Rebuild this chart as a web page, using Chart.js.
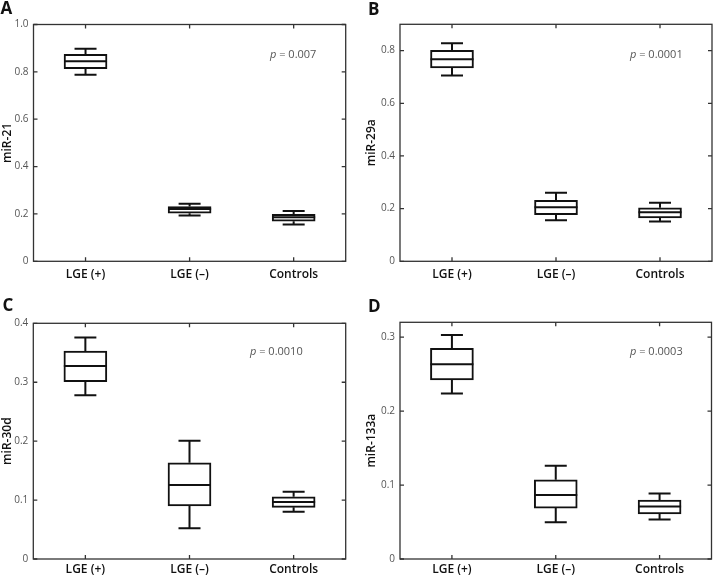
<!DOCTYPE html>
<html><head><meta charset="utf-8">
<script src="https://cdn.jsdelivr.net/npm/chart.js@4.4.0/dist/chart.umd.min.js"></script>
<style>
html,body{margin:0;padding:0;background:#fff;width:713px;height:576px;overflow:hidden;}
canvas{position:absolute;}
</style></head><body>
<canvas id="cA" width="356" height="288" style="left:0;top:0"></canvas>
<canvas id="cB" width="357" height="288" style="left:356px;top:0"></canvas>
<canvas id="cC" width="356" height="288" style="left:0;top:288px"></canvas>
<canvas id="cD" width="357" height="288" style="left:356px;top:288px"></canvas>
<script>
const categories = ['LGE (+)', 'LGE (–)', 'Controls'];

// Panel A: miR-21
const miR21Low  = [0.788, 0.193, 0.155];
const miR21Q1   = [0.813, 0.203, 0.169];
const miR21Med  = [0.845, 0.221, 0.186];
const miR21Q3   = [0.874, 0.231, 0.198];
const miR21High = [0.898, 0.243, 0.212];
const miR21Ticks = [0, 0.2, 0.4, 0.6, 0.8, 1.0];
const miR21TickLabels = ['0', '0.2', '0.4', '0.6', '0.8', '1.0'];

// Panel B: miR-29a
const miR29aLow  = [0.706, 0.156, 0.151];
const miR29aQ1   = [0.734, 0.177, 0.165];
const miR29aMed  = [0.767, 0.205, 0.186];
const miR29aQ3   = [0.801, 0.232, 0.203];
const miR29aHigh = [0.828, 0.260, 0.222];
const miR29aTicks = [0, 0.2, 0.4, 0.6, 0.8];
const miR29aTickLabels = ['0', '0.2', '0.4', '0.6', '0.8'];

// Panel C: miR-30d
const miR30dLow  = [0.278, 0.052, 0.080];
const miR30dQ1   = [0.301, 0.090, 0.0877];
const miR30dMed  = [0.3275, 0.1256, 0.0967];
const miR30dQ3   = [0.353, 0.1634, 0.1057];
const miR30dHigh = [0.376, 0.2008, 0.114];
const miR30dTicks = [0, 0.1, 0.2, 0.3, 0.4];
const miR30dTickLabels = ['0', '0.1', '0.2', '0.3', '0.4'];

// Panel D: miR-133a
const miR133aLow  = [0.2236, 0.0498, 0.0534];
const miR133aQ1   = [0.242, 0.0688, 0.0611];
const miR133aMed  = [0.2633, 0.0864, 0.071];
const miR133aQ3   = [0.2847, 0.1072, 0.0797];
const miR133aHigh = [0.3027, 0.1262, 0.0887];
const miR133aTicks = [0, 0.1, 0.2, 0.3];
const miR133aTickLabels = ['0', '0.1', '0.2', '0.3'];

const panelLetters = ['A', 'B', 'C', 'D'];
const pValues = ['0.007', '0.0001', '0.0010', '0.0003'];
const yTitles = ['miR-21', 'miR-29a', 'miR-30d', 'miR-133a'];

const FONT = "'Open Sans', 'Noto Sans', sans-serif";

const boxPlugin = {
  id: 'boxWhisker',
  afterDatasetsDraw(chart, args, o) {
    const ctx = chart.ctx, xs = chart.scales.x, ys = chart.scales.y;
    const meta = chart.getDatasetMeta(0);
    ctx.save();
    ctx.strokeStyle = '#111';
    ctx.lineWidth = 2;
    ctx.lineCap = 'butt';
    categories.forEach((c, i) => {
      const cx = xs.getPixelForValue(i);
      const bw = meta.data[i].width;
      const yMed = ys.getPixelForValue(o.med[i]);
      const yLo = ys.getPixelForValue(o.low[i]);
      const yHi = ys.getPixelForValue(o.high[i]);
      const yQ1 = ys.getPixelForValue(o.q1[i]);
      const yQ3 = ys.getPixelForValue(o.q3[i]);
      const cap = o.capWidth / 2;
      ctx.beginPath();
      ctx.moveTo(cx - bw / 2, yMed); ctx.lineTo(cx + bw / 2, yMed);
      ctx.moveTo(cx, yQ3); ctx.lineTo(cx, yHi);
      ctx.moveTo(cx - cap, yHi); ctx.lineTo(cx + cap, yHi);
      ctx.moveTo(cx, yQ1); ctx.lineTo(cx, yLo);
      ctx.moveTo(cx - cap, yLo); ctx.lineTo(cx + cap, yLo);
      ctx.stroke();
    });
    ctx.restore();
  },
  afterDraw(chart, args, o) {
    const ctx = chart.ctx, a = chart.chartArea, xs = chart.scales.x, ys = chart.scales.y;
    ctx.save();
    ctx.strokeStyle = '#333';
    ctx.lineWidth = 1.3;
    ctx.strokeRect(a.left, a.top, a.right - a.left, a.bottom - a.top);
    const tl = 4;
    ctx.beginPath();
    ys.ticks.forEach(t => {
      const y = ys.getPixelForValue(t.value);
      ctx.moveTo(a.left, y); ctx.lineTo(a.left + tl, y);
      ctx.moveTo(a.right, y); ctx.lineTo(a.right - tl, y);
    });
    categories.forEach((c, i) => {
      const x = xs.getPixelForValue(i);
      ctx.moveTo(x, a.top); ctx.lineTo(x, a.top + tl);
      ctx.moveTo(x, a.bottom); ctx.lineTo(x, a.bottom - tl);
    });
    ctx.stroke();
    // p-value annotation
    ctx.fillStyle = '#555';
    ctx.textBaseline = 'middle';
    ctx.textAlign = 'left';
    const px = a.right + o.pDx, py = a.top + o.pDy;
    ctx.font = 'italic 11px ' + FONT;
    ctx.fillText('p', px, py);
    const w = ctx.measureText('p').width;
    ctx.font = '11px ' + FONT;
    ctx.fillText(' = ' + o.pValue, px + w, py);
    // panel letter
    ctx.fillStyle = '#111';
    ctx.textBaseline = 'alphabetic';
    ctx.font = 'bold 17px ' + FONT;
    ctx.fillText(o.letter, o.letterX, o.letterY);
    ctx.restore();
  }
};

function makeChart(id, p) {
  return new Chart(document.getElementById(id), {
    type: 'bar',
    data: {
      labels: categories,
      datasets: [{
        data: p.q1.map((v, i) => [v, p.q3[i]]),
        backgroundColor: '#fff',
        borderColor: '#111',
        borderWidth: 2,
        borderSkipped: false,
        barThickness: 43
      }]
    },
    options: {
      responsive: false,
      animation: false,
      devicePixelRatio: 1,
      layout: { padding: { top: p.padTop, right: p.padRight, left: 0, bottom: 0 } },
      plugins: {
        legend: { display: false },
        tooltip: { enabled: false },
        boxWhisker: {
          low: p.low, q1: p.q1, med: p.med, q3: p.q3, high: p.high,
          capWidth: 22, pValue: p.pValue, pDx: p.pDx, pDy: p.pDy,
          letter: p.letter, letterX: p.letterX, letterY: p.letterY
        }
      },
      scales: {
        x: {
          offset: true,
          grid: { display: false, drawTicks: false },
          border: { display: false },
          ticks: { color: '#111', font: { family: FONT, size: 12, weight: '600' }, padding: p.xPad, maxRotation: 0 },
          afterFit: s => { s.height = p.xH; }
        },
        y: {
          min: 0, max: p.max,
          grid: { display: false, drawTicks: false },
          border: { display: false },
          afterBuildTicks: s => { s.ticks = p.ticks.map(v => ({ value: v })); },
          ticks: {
            callback: (v, i) => p.tickLabels[i],
            color: '#555', font: { family: FONT, size: 10 }, padding: 5
          },
          title: {
            display: true, text: p.title, color: '#111',
            font: { family: FONT, size: 12, weight: '600' },
            padding: { top: p.titlePad, bottom: 0 }
          },
          afterFit: s => { s.width = p.yW; }
        }
      }
    },
    plugins: [boxPlugin]
  });
}

makeChart('cA', {
  low: miR21Low, q1: miR21Q1, med: miR21Med, q3: miR21Q3, high: miR21High,
  ticks: miR21Ticks, tickLabels: miR21TickLabels, max: 1.0, title: yTitles[0],
  pValue: pValues[0], letter: panelLetters[0],
  padTop: 24.5, padRight: 10.3, xH: 26.7, yW: 33.5, titlePad: 0, xPad: 6,
  pDx: -75.7, pDy: 30.5, letterX: 0.5, letterY: 14
});
makeChart('cB', {
  low: miR29aLow, q1: miR29aQ1, med: miR29aMed, q3: miR29aQ3, high: miR29aHigh,
  ticks: miR29aTicks, tickLabels: miR29aTickLabels, max: 0.9, title: yTitles[1],
  pValue: pValues[1], letter: panelLetters[1],
  padTop: 24.3, padRight: 1, xH: 26.7, yW: 44, titlePad: 8, xPad: 6,
  pDx: -82, pDy: 30.7, letterX: 12, letterY: 15
});
makeChart('cC', {
  low: miR30dLow, q1: miR30dQ1, med: miR30dMed, q3: miR30dQ3, high: miR30dHigh,
  ticks: miR30dTicks, tickLabels: miR30dTickLabels, max: 0.4, title: yTitles[2],
  pValue: pValues[2], letter: panelLetters[2],
  padTop: 35.3, padRight: 10.3, xH: 17, yW: 33.3, titlePad: 0, xPad: 3.5,
  pDx: -95.7, pDy: 28.7, letterX: 2.5, letterY: 22.7
});
makeChart('cD', {
  low: miR133aLow, q1: miR133aQ1, med: miR133aMed, q3: miR133aQ3, high: miR133aHigh,
  ticks: miR133aTicks, tickLabels: miR133aTickLabels, max: 0.32, title: yTitles[3],
  pValue: pValues[3], letter: panelLetters[3],
  padTop: 34.3, padRight: 1.5, xH: 17, yW: 44, titlePad: 8, xPad: 3.5,
  pDx: -81.5, pDy: 29.7, letterX: 12, letterY: 23.7
});
</script>
</body></html>
